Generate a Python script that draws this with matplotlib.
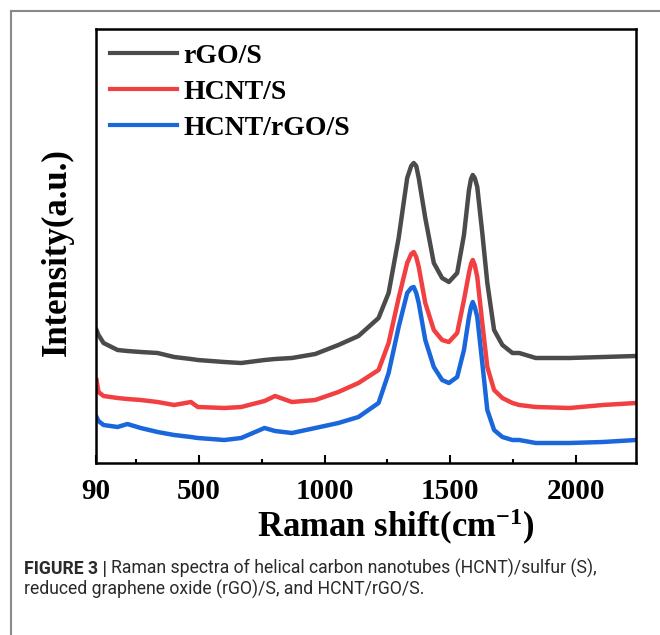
import numpy as np
import matplotlib
matplotlib.use("Agg")
import matplotlib.pyplot as plt
from matplotlib.lines import Line2D

# Raman shift grid (cm^-1) and intensities (a.u., offset stacked)
shift = [92, 100, 120, 176, 215, 268, 335, 401, 468, 495, 601, 668, 761, 803, 870,
         963, 1055, 1135, 1215, 1255, 1295, 1329, 1345, 1355, 1365, 1375, 1401, 1435,
         1468, 1495, 1528, 1555, 1575, 1583, 1590, 1598, 1608, 1628, 1648, 1675, 1708,
         1748, 1775, 1841, 1975, 2108, 2240]

rgo_s = [133, 128, 120, 113, 112, 111, 110, 106, 104, 103, 101, 100, 103, 104, 105,
         109, 118, 127, 145, 170, 225, 285, 297, 300, 297, 285, 245, 200,
         185, 181, 190, 228, 273, 284, 288, 285, 276, 230, 180, 133, 118,
         110, 110, 105, 105, 106, 107]

hcnt_s = [83, 71, 67, 65, 64, 63, 61, 58, 61, 56, 55, 56, 62, 67, 61,
          63, 71, 80, 93, 120, 165, 200, 209, 211, 206, 196, 160, 133,
          123, 121, 130, 163, 190, 199, 203, 198, 186, 140, 96, 73, 65,
          60, 58, 56, 55, 58, 60]

hcnt_rgo_s = [46, 42, 38, 36, 39, 35, 31, 28, 26, 25, 23, 25, 35, 32, 30,
              35, 40, 46, 60, 90, 136, 170, 175, 176, 170, 160, 123, 96,
              83, 80, 86, 113, 146, 156, 161, 156, 146, 100, 53, 33, 26,
              23, 23, 20, 20, 21, 23]

labels = ["rGO/S", "HCNT/S", "HCNT/rGO/S"]
colors = ["#4b4b4b", "#f23f42", "#1a67dc"]
xticks = [90, 500, 1000, 1500, 2000]
minor_ticks = [250, 750, 1250, 1750]

plt.rcParams["font.family"] = ["Liberation Serif", "DejaVu Serif"]
plt.rcParams["font.weight"] = "bold"
plt.rcParams["mathtext.default"] = "regular"

W, H = 660, 635
fig = plt.figure(figsize=(W / 100, H / 100), dpi=100)
ax = fig.add_axes([96 / W, 1 - 463 / H, (636 - 96) / W, (463 - 29) / H])

for y, lab, c in zip([rgo_s, hcnt_s, hcnt_rgo_s], labels, colors):
    ax.plot(shift, y, color=c, lw=3.2, label=lab, solid_joinstyle="round")

ax.set_xlim(90, 2240)
ax.set_ylim(0, 434)
ax.set_xticks(xticks)
ax.set_xticklabels([str(t) for t in xticks])
ax.set_xticks(minor_ticks, minor=True)
ax.set_yticks([])
ax.tick_params(axis="x", which="major", direction="in", length=6, width=1.5,
               labelsize=21, pad=11)
ax.tick_params(axis="x", which="minor", direction="in", length=3, width=1.5)
for s in ax.spines.values():
    s.set_linewidth(1.8)

ax.set_xlabel("Raman shift(cm$^{-1}$)", fontsize=25, fontweight="bold")
ax.xaxis.set_label_coords((396 - 96) / 540, -(527 - 463) / 434, transform=ax.transAxes)
ax.xaxis.label.set_va("center")
ax.set_ylabel("Intensity(a.u.)", fontsize=25, fontweight="bold")
ax.yaxis.set_label_coords(-(96 - 57) / 540, (463 - 252) / 434, transform=ax.transAxes)
ax.yaxis.label.set_va("center")

leg = ax.legend(loc="upper left", frameon=False, fontsize=20, handlelength=2.4,
                handletextpad=0.22, labelspacing=0.38, borderaxespad=0.1,
                borderpad=0.42)
for h in leg.get_lines():
    h.set_linewidth(3)

# figure frame (top and left grey rules)
fig.add_artist(Line2D([11 / W, 1], [1 - 11 / H, 1 - 11 / H], color="#8a8a8a", lw=1.5))
fig.add_artist(Line2D([11 / W, 11 / W], [0, 1 - 11 / H], color="#8a8a8a", lw=1.5))

# caption
cap_font = ["Roboto", "DejaVu Sans"]
t1 = fig.text(24 / W, 1 - 574 / H, "FIGURE 3 |", fontsize=12.7, fontweight="bold",
              family=cap_font, color="#2a2a2a", va="baseline")
fig.canvas.draw()
bb = t1.get_window_extent(fig.canvas.get_renderer())
fig.text(bb.x1 / W + 4 / W, 1 - 574 / H,
         "Raman spectra of helical carbon nanotubes (HCNT)/sulfur (S),",
         fontsize=12.7, fontweight="normal", family=cap_font, color="#2a2a2a",
         va="baseline")
fig.text(24 / W, 1 - 595 / H, "reduced graphene oxide (rGO)/S, and HCNT/rGO/S.",
         fontsize=12.7, fontweight="normal", family=cap_font, color="#2a2a2a",
         va="baseline")

fig.savefig("out.png", dpi=100)
